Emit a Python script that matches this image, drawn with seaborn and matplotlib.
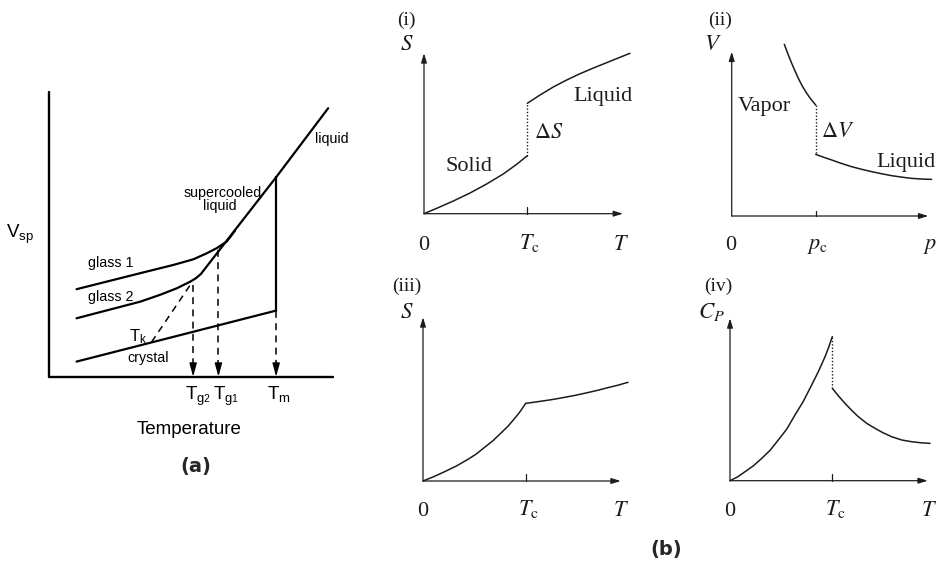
import numpy as np
import matplotlib
matplotlib.use("Agg")
import matplotlib.pyplot as plt
import seaborn as sns

# ---------------- data ----------------
# (a) specific volume vs temperature (arbitrary units)
glass1_T = [0.98, 3.21, 4.38, 5.09, 5.56, 5.91, 6.26, 6.55]
glass1_V = [3.07, 3.63, 3.92, 4.12, 4.33, 4.51, 4.74, 5.12]
glass2_liquid_T = [0.98, 3.21, 3.91, 4.50, 4.97, 5.17, 5.35, 6.26, 8.0, 9.83]
glass2_liquid_V = [2.05, 2.63, 2.87, 3.10, 3.33, 3.45, 3.60, 4.77, 7.0, 9.42]
crystal_T = [0.98, 8.0]
crystal_V = [0.53, 2.32]
melt_T = [8.0, 8.0]
melt_V = [2.32, 7.0]
drop_T = [5.08, 5.97, 8.0]          # Tg2, Tg1, Tm
drop_top = [3.22, 4.45, 2.32]
kauzmann_T = [3.62, 5.0]
kauzmann_V = [1.22, 3.25]
a_axis_T = [0, 0, 10]
a_axis_V = [10, 0, 0]

# (i) first-order transition, S vs T (Tc = 1)
i_solid_T = [0, 0.123, 0.284, 0.445, 0.607, 0.768, 0.897, 1.0]
i_solid_S = [0, 0.052, 0.123, 0.200, 0.288, 0.385, 0.478, 0.561]
i_liq_T = [1.0, 1.123, 1.252, 1.381, 1.510, 1.639, 1.768, 1.897, 1.994]
i_liq_S = [1.069, 1.149, 1.227, 1.294, 1.355, 1.410, 1.462, 1.514, 1.553]
i_axis = (1.926, 1.553)

# (ii) V vs p (pc = 1)
ii_vap_p = [0.626, 0.674, 0.714, 0.754, 0.793, 0.840, 0.893, 0.944, 1.0]
ii_vap_V = [2.044, 1.917, 1.818, 1.726, 1.639, 1.548, 1.461, 1.389, 1.321]
ii_liq_p = [1.0, 1.095, 1.190, 1.309, 1.428, 1.547, 1.666, 1.785, 1.904,
            2.023, 2.142, 2.261, 2.380]
ii_liq_V = [0.734, 0.699, 0.667, 0.625, 0.587, 0.556, 0.528, 0.503, 0.480,
            0.463, 0.448, 0.440, 0.436]
ii_axis = (2.34, 1.956)

# (iii) second-order transition, S vs T
iii_low_T = [0, 0.104, 0.211, 0.325, 0.438, 0.519, 0.600, 0.682, 0.763,
             0.828, 0.893, 0.945, 1.0]
iii_low_S = [0, 0.042, 0.091, 0.146, 0.211, 0.263, 0.328, 0.393, 0.471,
             0.534, 0.610, 0.675, 0.756]
iii_high_T = [1.0, 1.088, 1.185, 1.282, 1.380, 1.477, 1.574, 1.688, 1.801,
              1.899, 1.996]
iii_high_S = [0.756, 0.768, 0.782, 0.797, 0.815, 0.833, 0.854, 0.880, 0.909,
              0.933, 0.961]
iii_axis = (1.925, 1.594)

# (iv) Cp vs T
iv_low_T = [0, 0.072, 0.147, 0.228, 0.310, 0.391, 0.472, 0.554, 0.635,
            0.717, 0.798, 0.863, 0.929, 0.964, 1.0]
iv_low_C = [0, 0.036, 0.088, 0.145, 0.218, 0.296, 0.398, 0.503, 0.642,
            0.776, 0.935, 1.065, 1.212, 1.302, 1.408]
iv_high_T = [1.0, 1.059, 1.124, 1.189, 1.254, 1.336, 1.417, 1.499, 1.580,
             1.678, 1.776, 1.874, 1.955]
iv_high_C = [0.903, 0.830, 0.756, 0.688, 0.626, 0.561, 0.512, 0.467, 0.430,
             0.398, 0.381, 0.370, 0.365]
iv_axis = (1.933, 1.587)

# ---------------- style ----------------
sns.set_style("white")
plt.rcParams["font.family"] = ["Liberation Sans", "DejaVu Sans"]
plt.rcParams["mathtext.fontset"] = "custom"
plt.rcParams["mathtext.rm"] = "Liberation Sans"
plt.rcParams["mathtext.it"] = "Liberation Sans:italic"
plt.rcParams["mathtext.bf"] = "Liberation Sans:bold"

W, H = 941, 563
fig = plt.figure(figsize=(W / 100, H / 100), dpi=100)
fig.patch.set_facecolor("white")
renderer = fig.canvas.get_renderer()


def panel_axes(ox, oy, sx, sy, xlim, ylim):
    l = ox + xlim[0] * sx
    r = ox + xlim[1] * sx
    t = oy - ylim[1] * sy
    b = oy - ylim[0] * sy
    ax = fig.add_axes([l / W, 1 - b / H, (r - l) / W, (b - t) / H])
    ax.set_xlim(*xlim)
    ax.set_ylim(*ylim)
    ax.set_axis_off()
    return ax


def curve(ax, x, y, lw, ls="-", color="black"):
    sns.lineplot(x=np.asarray(x, float), y=np.asarray(y, float), ax=ax,
                 color=color, linewidth=lw, linestyle=ls, sort=False,
                 estimator=None, clip_on=False)


def ftext(x, y, s, **kw):
    return fig.text(x / W, 1 - y / H, s, **kw)


# ---------------- panel (a) ----------------
axa = panel_axes(48.7, 376.7, 28.43, 28.5, (-1, 11), (-1, 11))
curve(axa, a_axis_T, a_axis_V, 1.7)
curve(axa, glass1_T, glass1_V, 1.6)
curve(axa, glass2_liquid_T, glass2_liquid_V, 1.6)
curve(axa, crystal_T, crystal_V, 1.6)
curve(axa, melt_T, melt_V, 1.6)
dash = (0, (4.5, 3.5))
for tx, top in zip(drop_T, drop_top):
    curve(axa, [tx, tx], [top, 0.35], 1.1, ls=dash)
    axa.annotate("", xy=(tx, 0), xytext=(tx, 0.4),
                 arrowprops=dict(arrowstyle="-|>,head_length=0.8,head_width=0.22",
                                 color="black", lw=1.0, shrinkA=0, shrinkB=0,
                                 mutation_scale=10))
curve(axa, kauzmann_T, kauzmann_V, 1.1, ls=dash)

sa = dict(family=["Liberation Sans", "DejaVu Sans"], math_fontfamily="custom",
          color="black")
ftext(332, 138.5, "liquid", fontsize=10.3, va="center", ha="center", **sa)
ftext(223, 192.5, "supercooled", fontsize=10.3, va="center", ha="center", **sa)
ftext(220, 206, "liquid", fontsize=10.3, va="center", ha="center", **sa)
ftext(110.5, 262.7, "glass 1", fontsize=10.3, va="center", ha="center", **sa)
ftext(110.5, 296.7, "glass 2", fontsize=10.3, va="center", ha="center", **sa)
ftext(148.5, 358, "crystal", fontsize=10.3, va="center", ha="center", **sa)
ftext(138, 341, r"T$_\mathrm{k}$", fontsize=12, va="baseline", ha="center", **sa)
ftext(20, 238, r"V$_\mathrm{sp}$", fontsize=13.5, va="baseline", ha="center", **sa)


def tg_label(x_left, digit):
    t = ftext(x_left, 399.5, r"T$_\mathrm{g}$", fontsize=13.5, va="baseline",
              ha="left", **sa)
    bb = t.get_window_extent(renderer=renderer)
    ftext(bb.x1 - 1.5, 402.0, digit, fontsize=7.5, va="baseline", ha="left", **sa)


tg_label(185, "2")
tg_label(213, "1")
ftext(279, 399.5, r"T$_\mathrm{m}$", fontsize=13.5, va="baseline", ha="center", **sa)
ftext(188.7, 433.5, "Temperature", fontsize=13.5, va="baseline", ha="center", **sa)
ftext(196, 466.7, "(a)", fontsize=14, va="center", fontweight="bold",
      family="DejaVu Sans", ha="center")
ftext(666, 549, "(b)", fontsize=14, va="center", fontweight="bold",
      family="DejaVu Sans", ha="center")

# ---------------- panel (b) ----------------
LC = "#1c1c1c"
sb = dict(family=["Liberation Serif", "DejaVu Serif"], math_fontfamily="stix",
          ha="center", color=LC)


def axes_arrows(ax, xend, ytop):
    ap = dict(arrowstyle="-|>,head_length=0.55,head_width=0.17", color=LC,
              lw=0.9, shrinkA=0, shrinkB=0, mutation_scale=10)
    ax.annotate("", xy=(xend, 0), xytext=(0, 0), arrowprops=ap)
    ax.annotate("", xy=(0, ytop), xytext=(0, 0), arrowprops=ap)
    curve(ax, [1, 1], [0, 0.065], 0.9, color=LC)


dot = (0, (1, 1.4))

# (i)
ax1 = panel_axes(424, 213.7, 103.3, 103.3, (-0.2, 2.2), (-0.2, 2.2))
axes_arrows(ax1, *i_axis)
curve(ax1, i_solid_T, i_solid_S, 1.1, color=LC)
curve(ax1, i_liq_T, i_liq_S, 1.1, color=LC)
curve(ax1, [1, 1], [i_solid_S[-1], i_liq_S[0]], 1.0, ls=dot, color=LC)
ftext(406.7, 20, "(i)", fontsize=14, va="center", **sb)
ftext(407, 45, r"$S$", fontsize=16.5, va="center", **sb)
ftext(602.5, 101, "Liquid", fontsize=16, va="baseline", **sb)
ftext(548.3, 138.3, r"$\Delta S$", fontsize=16, va="baseline", **sb)
ftext(469, 171, "Solid", fontsize=16, va="baseline", **sb)
ftext(424, 249.5, "0", fontsize=16, va="baseline", **sb)
ftext(529, 249.5, r"$T_\mathrm{c}$", fontsize=16, va="baseline", **sb)
ftext(621, 249.5, r"$T$", fontsize=16, va="baseline", **sb)

# (ii)
ax2 = panel_axes(731.7, 216, 84, 84, (-0.2, 2.6), (-0.2, 2.3))
axes_arrows(ax2, *ii_axis)
curve(ax2, ii_vap_p, ii_vap_V, 1.1, color=LC)
curve(ax2, ii_liq_p, ii_liq_V, 1.1, color=LC)
curve(ax2, [1, 1], [ii_vap_V[-1], ii_liq_V[0]], 1.0, ls=dot, color=LC)
ftext(720, 20, "(ii)", fontsize=14, va="center", **sb)
ftext(712.5, 45, r"$V$", fontsize=16.5, va="center", **sb)
ftext(764, 111.5, "Vapor", fontsize=16, va="baseline", **sb)
ftext(837.5, 136.7, r"$\Delta V$", fontsize=16, va="baseline", **sb)
ftext(905.8, 166.7, "Liquid", fontsize=16, va="baseline", **sb)
ftext(731, 249.5, "0", fontsize=16, va="baseline", **sb)
ftext(818, 249.5, r"$p_\mathrm{c}$", fontsize=16, va="baseline", **sb)
ftext(930, 249.5, r"$p$", fontsize=16, va="baseline", **sb)

# (iii)
ax3 = panel_axes(423, 481, 102.7, 102.7, (-0.2, 2.2), (-0.2, 2.0))
axes_arrows(ax3, *iii_axis)
curve(ax3, iii_low_T, iii_low_S, 1.1, color=LC)
curve(ax3, iii_high_T, iii_high_S, 1.1, color=LC)
ftext(406.7, 286.7, "(iii)", fontsize=14, va="center", **sb)
ftext(406.7, 312, r"$S$", fontsize=16.5, va="center", **sb)
ftext(423, 515.5, "0", fontsize=16, va="baseline", **sb)
ftext(528, 515.5, r"$T_\mathrm{c}$", fontsize=16, va="baseline", **sb)
ftext(621, 515.5, r"$T$", fontsize=16, va="baseline", **sb)

# (iv)
ax4 = panel_axes(730, 480.7, 102.3, 102.3, (-0.2, 2.2), (-0.2, 2.0))
axes_arrows(ax4, *iv_axis)
curve(ax4, iv_low_T, iv_low_C, 1.1, color=LC)
curve(ax4, iv_high_T, iv_high_C, 1.1, color=LC)
curve(ax4, [1, 1], [iv_low_C[-1], iv_high_C[0]], 1.0, ls=dot, color=LC)
ftext(718.3, 286.7, "(iv)", fontsize=14, va="center", **sb)
ftext(711.7, 312, r"$C_P$", fontsize=16.5, va="center", **sb)
ftext(730, 515.5, "0", fontsize=16, va="baseline", **sb)
ftext(835, 515.5, r"$T_\mathrm{c}$", fontsize=16, va="baseline", **sb)
ftext(929, 515.5, r"$T$", fontsize=16, va="baseline", **sb)

fig.savefig("out.png", dpi=100, facecolor="white")
